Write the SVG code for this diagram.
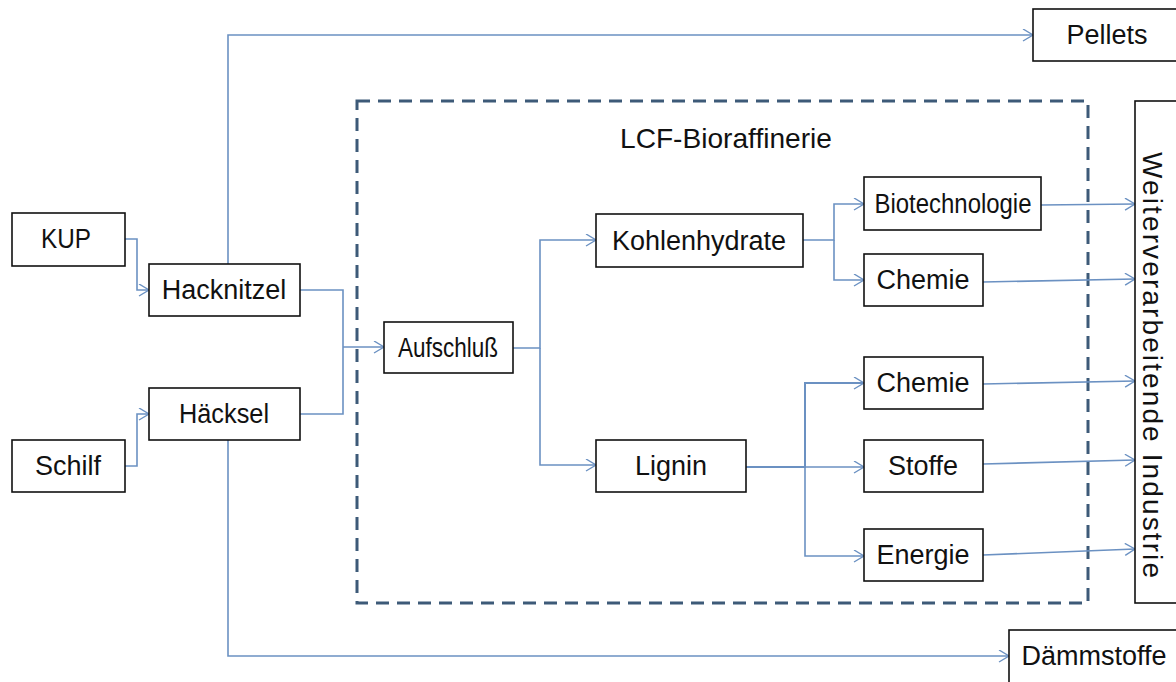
<svg xmlns="http://www.w3.org/2000/svg" width="1176" height="682" viewBox="0 0 1176 682">
<defs>
<style>
.box{fill:#fff;stroke:#111;stroke-width:1.6}
.t{font-family:"Liberation Sans",Arial,sans-serif;font-size:27px;fill:#111;text-anchor:middle}
.c{fill:none;stroke:#6b91c2;stroke-width:1.6}
.dash{fill:none;stroke:#3d5a78;stroke-width:3;stroke-dasharray:13 8}
</style>
<marker id="ar" markerUnits="userSpaceOnUse" markerWidth="14" markerHeight="14" refX="11" refY="6" orient="auto">
<path d="M1,0 L11,6 L1,12" fill="none" stroke="#6b91c2" stroke-width="1.4"/>
</marker>
</defs>
<rect width="1176" height="682" fill="#fff"/>

<g id="bioraffinerie">
<rect class="dash" x="357" y="101" width="731" height="502"/>
<text class="t" x="726" y="148" style="font-size:28px" textLength="212" lengthAdjust="spacingAndGlyphs">LCF-Bioraffinerie</text>
</g>

<g id="connectors">
<path class="c" d="M125,239 H137 V290 H149" marker-end="url(#ar)"/>
<path class="c" d="M125,466 H137 V414 H149" marker-end="url(#ar)"/>
<path class="c" d="M300,290 H343 V414 H300"/>
<path class="c" d="M343,347 H384" marker-end="url(#ar)"/>
<path class="c" d="M228,264 V35 H1033" marker-end="url(#ar)"/>
<path class="c" d="M228,440 V656 H1009" marker-end="url(#ar)"/>
<path class="c" d="M513,348 H540 V240 H596" marker-end="url(#ar)"/>
<path class="c" d="M540,348 V465 H596" marker-end="url(#ar)"/>
<path class="c" d="M803,240 H834 V204 H864" marker-end="url(#ar)"/>
<path class="c" d="M834,240 V280 H864" marker-end="url(#ar)"/>
<path class="c" d="M746,467 H805 V383 H864" marker-end="url(#ar)" style="stroke-width:2"/>
<path class="c" d="M805,467 H864" marker-end="url(#ar)"/>
<path class="c" d="M805,467 V556 H864" marker-end="url(#ar)"/>
<path class="c" d="M1041,205 L1135,204" marker-end="url(#ar)"/>
<path class="c" d="M983,282 L1135,279" marker-end="url(#ar)"/>
<path class="c" d="M983,384 L1135,381" marker-end="url(#ar)"/>
<path class="c" d="M983,464 L1135,460" marker-end="url(#ar)"/>
<path class="c" d="M983,555 L1135,549" marker-end="url(#ar)"/>
</g>

<g id="kup"><rect class="box" x="12" y="213" width="113" height="53"/><text class="t" x="66" y="248" textLength="50" lengthAdjust="spacingAndGlyphs">KUP</text></g>
<g id="hacknitzel"><rect class="box" x="149" y="264" width="151" height="52"/><text class="t" x="224" y="299">Hacknitzel</text></g>
<g id="haecksel"><rect class="box" x="149" y="388" width="151" height="52"/><text class="t" x="224" y="423" textLength="90" lengthAdjust="spacingAndGlyphs">Häcksel</text></g>
<g id="schilf"><rect class="box" x="12" y="440" width="113" height="52"/><text class="t" x="68" y="475">Schilf</text></g>
<g id="aufschluss"><rect class="box" x="384" y="322" width="129" height="51"/><text class="t" x="448" y="357" textLength="100" lengthAdjust="spacingAndGlyphs">Aufschluß</text></g>
<g id="kohlenhydrate"><rect class="box" x="596" y="214" width="207" height="53"/><text class="t" x="699" y="250">Kohlenhydrate</text></g>
<g id="lignin"><rect class="box" x="596" y="440" width="150" height="52"/><text class="t" x="671" y="475">Lignin</text></g>
<g id="biotechnologie"><rect class="box" x="864" y="177" width="177" height="53"/><text class="t" x="953" y="213" textLength="157" lengthAdjust="spacingAndGlyphs">Biotechnologie</text></g>
<g id="chemie1"><rect class="box" x="864" y="254" width="119" height="52"/><text class="t" x="923" y="289">Chemie</text></g>
<g id="chemie2"><rect class="box" x="864" y="357" width="119" height="52"/><text class="t" x="923" y="392">Chemie</text></g>
<g id="stoffe"><rect class="box" x="864" y="440" width="119" height="52"/><text class="t" x="923" y="475">Stoffe</text></g>
<g id="energie"><rect class="box" x="864" y="529" width="119" height="52"/><text class="t" x="923" y="564">Energie</text></g>
<g id="pellets"><rect class="box" x="1033" y="9" width="150" height="52"/><text class="t" x="1107" y="44">Pellets</text></g>
<g id="daemmstoffe"><rect class="box" x="1009" y="630" width="180" height="60"/><text class="t" x="1094" y="665">Dämmstoffe</text></g>
<g id="industrie"><rect class="box" x="1135" y="101" width="60" height="502"/><text class="t" transform="translate(1143,365) rotate(90)" style="font-size:28px" textLength="426" lengthAdjust="spacing">Weiterverarbeitende Industrie</text></g>
</svg>
